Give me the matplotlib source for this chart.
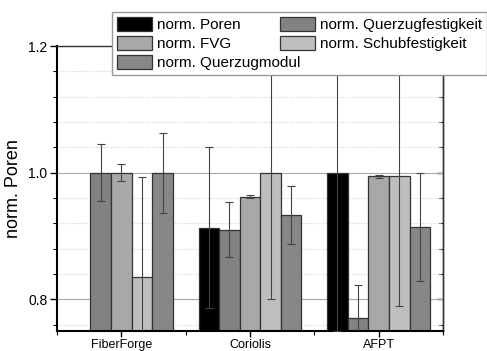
import numpy as np
import matplotlib
matplotlib.use("Agg")
import matplotlib.pyplot as plt
from matplotlib.ticker import MultipleLocator, FixedLocator

# Daten
gruppen = ["FiberForge", "Coriolis", "AFPT"]
poren = [0.0, 0.913, 1.0]
poren_err = [0.0, 0.127, 0.25]
querzugfestigkeit = [1.0, 0.91, 0.77]
querzugfestigkeit_err = [0.045, 0.043, 0.053]
fvg = [1.0, 0.962, 0.994]
fvg_err = [0.013, 0.002, 0.003]
schubfestigkeit = [0.835, 1.0, 0.995]
schubfestigkeit_err = [0.158, 0.2, 0.205]
querzugmodul = [1.0, 0.933, 0.914]
querzugmodul_err = [0.063, 0.046, 0.085]

# Reihenfolge der Balken in der Gruppe
reihen = [
    ("norm. Poren", poren, poren_err, "#000000"),
    ("norm. Querzugfestigkeit", querzugfestigkeit, querzugfestigkeit_err, "#828282"),
    ("norm. FVG", fvg, fvg_err, "#a8a8a8"),
    ("norm. Schubfestigkeit", schubfestigkeit, schubfestigkeit_err, "#bebebe"),
    ("norm. Querzugmodul", querzugmodul, querzugmodul_err, "#878787"),
]
legend_order = ["norm. Poren", "norm. FVG", "norm. Querzugmodul",
                "norm. Querzugfestigkeit", "norm. Schubfestigkeit"]

plt.rcParams['font.family'] = ['Liberation Sans', 'DejaVu Sans']

fig = plt.figure(figsize=(4.87, 3.51), dpi=100)
ax = fig.add_axes([57/487, 1 - 331/351, (443 - 57)/487, (331 - 46)/351])

x = np.arange(1, len(gruppen) + 1)
breite = 0.16
handles = {}
for i, (name, werte, fehler, farbe) in enumerate(reihen):
    pos = x + (i - 2) * breite
    b = ax.bar(pos, werte, breite, color=farbe, edgecolor="#333333",
               linewidth=0.9, label=name, zorder=2)
    ax.errorbar(pos, werte, yerr=fehler, fmt="none", ecolor="#444444",
                elinewidth=0.8, capsize=3, capthick=0.8, zorder=3)
    handles[name] = b

ax.set_xlim(0.5, 3.5)
ax.set_ylim(0.75, 1.2)
ax.set_xticks(x)
ax.set_xticklabels(gruppen, fontsize=9)
ax.xaxis.set_minor_locator(FixedLocator([0.5, 1.5, 2.5, 3.5]))
ax.yaxis.set_major_locator(FixedLocator([0.8, 1.0, 1.2]))
ax.yaxis.set_major_formatter(matplotlib.ticker.FormatStrFormatter('%.1f'))
ax.yaxis.set_minor_locator(MultipleLocator(0.04))
ax.tick_params(axis="y", which="both", direction="out", labelsize=10)
ax.tick_params(axis="y", which="major", length=5, width=1, pad=2)
ax.tick_params(axis="y", which="minor", length=3, width=0.8)
ax.tick_params(axis="x", which="major", length=4, width=1, pad=1.5)
ax.tick_params(axis="x", which="minor", length=3, width=0.8)
ax.set_ylabel("norm. Poren", fontsize=13, labelpad=4)

# rechte Achse: Ticks nach innen, ohne Beschriftung
rechts = ax.secondary_yaxis("right")
rechts.yaxis.set_major_locator(FixedLocator([0.8, 1.0, 1.2]))
rechts.yaxis.set_minor_locator(MultipleLocator(0.04))
rechts.tick_params(which="both", direction="in", labelright=False)
rechts.tick_params(which="major", length=4, width=1)
rechts.tick_params(which="minor", length=3, width=0.8)
rechts.spines["right"].set_linewidth(1.0)
rechts.spines["right"].set_color("#333333")

ax.grid(axis="y", which="major", color="#a8a8a8", linewidth=0.8, zorder=0)
ax.grid(axis="y", which="minor", color="#d0d0d0", linestyle=":", linewidth=0.8, zorder=0)
ax.set_axisbelow(True)

for s in ["left", "bottom"]:
    ax.spines[s].set_linewidth(1.5)
for s in ["top", "right"]:
    ax.spines[s].set_linewidth(1.0)
    ax.spines[s].set_color("#333333")

leg = fig.legend([handles[n] for n in legend_order], legend_order,
                 loc="upper left", bbox_to_anchor=(112/487, 1 - 12/351),
                 ncol=2, fontsize=11, frameon=True, fancybox=False,
                 framealpha=1, edgecolor="#999999", borderaxespad=0,
                 borderpad=0.3, handlelength=2.3, handleheight=1.05,
                 handletextpad=0.33, labelspacing=0.25, columnspacing=-1.3)
leg.get_frame().set_linewidth(1.0)

fig.savefig("out.png", dpi=100)
